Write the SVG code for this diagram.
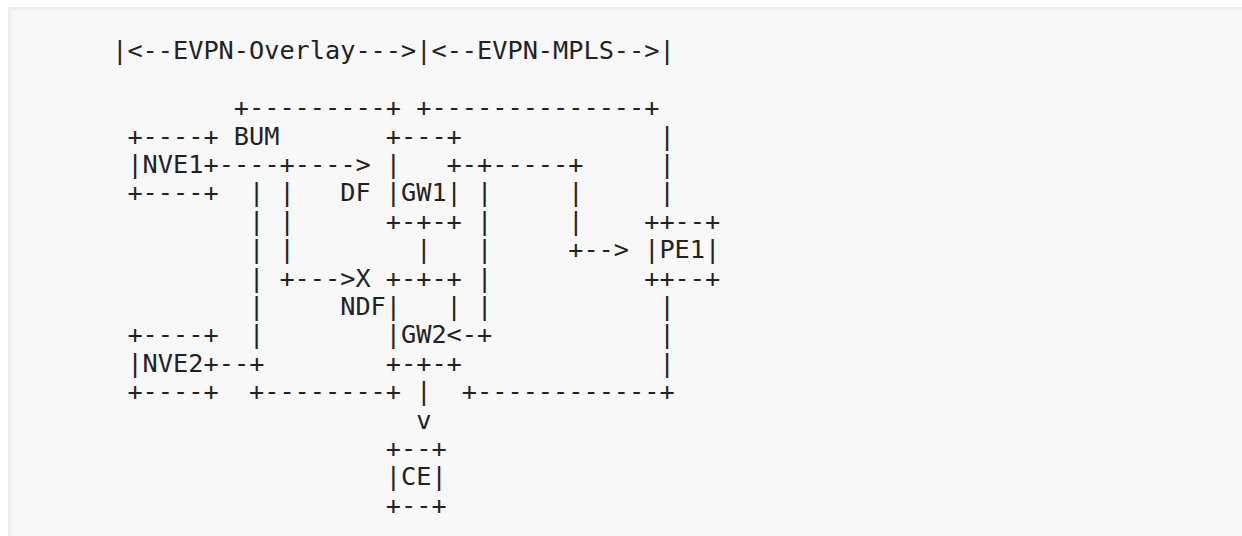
<svg xmlns="http://www.w3.org/2000/svg" width="1242" height="536" viewBox="0 0 1242 536" xml:space="preserve">
<style>
text { font-family: "DejaVu Sans Mono", "Liberation Mono", monospace; font-size: 25.25px; fill: #222222; white-space: pre; }
</style>
<rect x="0" y="0" width="1242" height="536" fill="#ffffff"/>
<rect x="8" y="7" width="1240" height="540" fill="#eeeeee"/>
<rect x="11" y="10" width="1240" height="540" fill="#f8f8f8"/>
<g id="title">
<text x="112.2" y="59.3">|&lt;--EVPN-Overlay---&gt;|&lt;--EVPN-MPLS--&gt;|</text>
</g>
<g id="NVE1">
<text x="127.4" y="144.5">+----+</text>
<text x="127.4" y="172.9">|NVE1</text>
<text x="127.4" y="201.3">+----+</text>
</g>
<g id="NVE2">
<text x="127.4" y="343.3">+----+</text>
<text x="127.4" y="371.7">|NVE2</text>
<text x="127.4" y="400.1">+----+</text>
</g>
<g id="GW1">
<text x="385.8" y="144.5">+---+</text>
<text x="385.8" y="172.9">|</text>
<text x="385.8" y="201.3">|GW1|</text>
<text x="385.8" y="229.7">+-+-+</text>
</g>
<g id="GW2">
<text x="385.8" y="286.5">+-+-+</text>
<text x="385.8" y="314.9">|   |</text>
<text x="385.8" y="343.3">|GW2</text>
<text x="385.8" y="371.7">+-+-+</text>
</g>
<g id="PE1">
<text x="644.2" y="229.7">++--+</text>
<text x="644.2" y="258.1">|PE1|</text>
<text x="644.2" y="286.5">++--+</text>
</g>
<g id="CE">
<text x="385.8" y="456.9">+--+</text>
<text x="385.8" y="485.3">|CE|</text>
<text x="385.8" y="513.7">+--+</text>
</g>
<g id="connectors">
<text x="233.8" y="116.1">+---------+ +--------------+</text>
<text x="233.8" y="144.5">BUM</text>
<text x="659.4" y="144.5">|</text>
<text x="203.6" y="172.9">+----+----&gt;</text>
<text x="446.6" y="172.9">+-+-----+</text>
<text x="659.4" y="172.9">|</text>
<text x="249.0" y="201.3">| |</text>
<text x="340.2" y="201.3">DF</text>
<text x="477.0" y="201.3">|</text>
<text x="568.2" y="201.3">|</text>
<text x="659.4" y="201.3">|</text>
<text x="249.0" y="229.7">| |</text>
<text x="477.0" y="229.7">|</text>
<text x="568.2" y="229.7">|</text>
<text x="249.0" y="258.1">| |</text>
<text x="416.2" y="258.1">|</text>
<text x="477.0" y="258.1">|</text>
<text x="568.2" y="258.1">+--&gt;</text>
<text x="249.0" y="286.5">| +---&gt;X</text>
<text x="477.0" y="286.5">|</text>
<text x="249.0" y="314.9">|</text>
<text x="340.2" y="314.9">NDF</text>
<text x="477.0" y="314.9">|</text>
<text x="659.4" y="314.9">|</text>
<text x="249.0" y="343.3">|</text>
<text x="446.6" y="343.3">&lt;-+</text>
<text x="659.4" y="343.3">|</text>
<text x="203.6" y="371.7">+--+</text>
<text x="659.4" y="371.7">|</text>
<text x="249.0" y="400.1">+--------+ |  +------------+</text>
<text x="416.2" y="428.5">v</text>
</g>
</svg>
